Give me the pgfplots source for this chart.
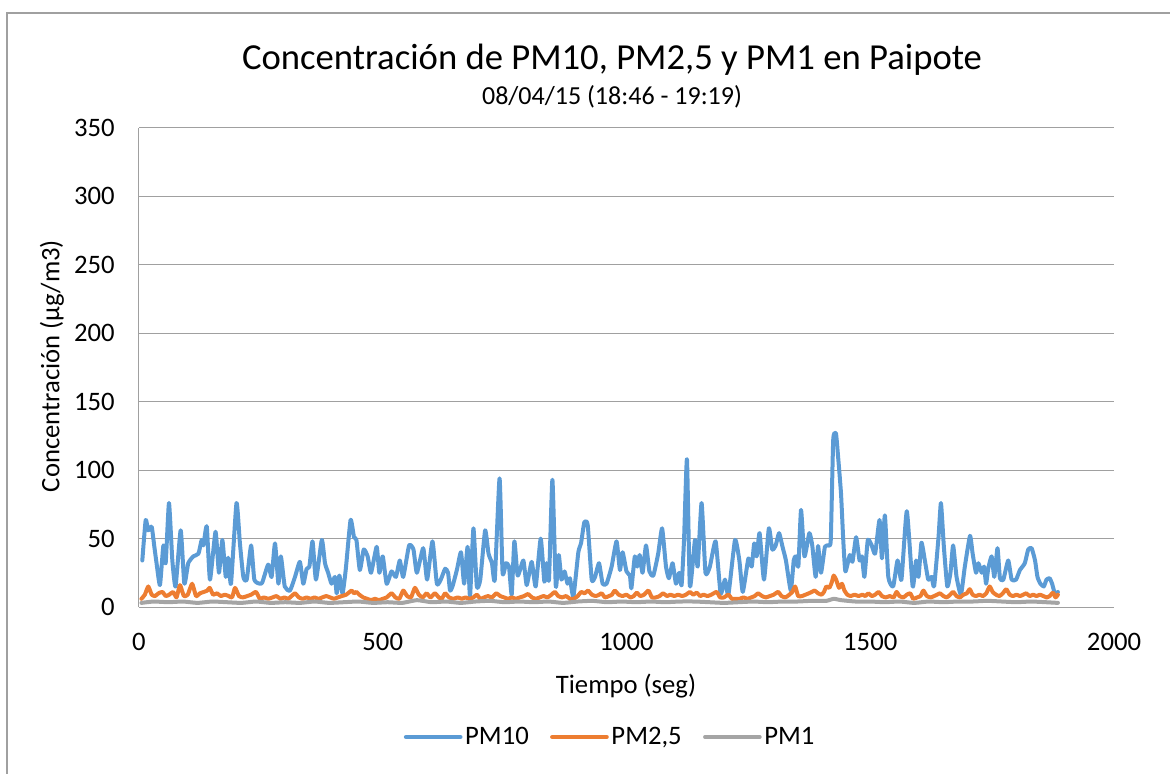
\documentclass[border=0pt]{standalone}
\usepackage{pgfplots}
\pgfplotsset{compat=1.18}
\usepackage{fontspec}
\setmainfont{Carlito}
\definecolor{pmblue}{RGB}{91,155,213}
\definecolor{pmorange}{RGB}{237,125,49}
\definecolor{pmgray}{RGB}{165,165,165}
\definecolor{gridc}{RGB}{160,160,160}
\begin{document}
\begin{tikzpicture}
\useasboundingbox (-104.25pt,-125.25pt) rectangle (773.25pt,455.25pt);
\draw[color=gridc, line width=1.2pt] (-99pt,-130pt) -- (-99pt,445.5pt) -- (780pt,445.5pt);
\begin{axis}[
  at={(0,0)}, anchor=south west,
  scale only axis,
  width=731.25pt, height=359.25pt,
  xmin=0, xmax=2000, ymin=0, ymax=350,
  xtick={0,500,1000,1500,2000},
  ytick={0,50,100,150,200,250,300,350},
  axis line style={draw=gridc, line width=0.75pt},
  axis x line*=bottom, axis y line*=left,
  major tick length=0pt,
  ymajorgrids, grid style={draw=gridc, line width=0.75pt},
  tick label style={font=\fontsize{20}{23}\selectfont, text=black},
  /pgf/number format/assume math mode=true,
  /pgf/number format/set thousands separator={},
  xticklabel style={anchor=base, yshift=-32.5pt, inner sep=0pt},
  yticklabel style={anchor=east, xshift=-18pt, inner sep=0pt},
  legend style={at={(0.4836,-0.2714)}, anchor=center, draw=none, fill=none,
    font=\fontsize{20}{23}\selectfont, legend columns=3,
    /tikz/every even column/.append style={column sep=14pt}},
  legend image code/.code={\draw[#1, line width=3pt] (0pt,0pt) -- (41pt,0pt);},
  every axis plot/.append style={line join=round, line cap=round, line width=3pt, smooth, tension=0.3},
  clip=false,
]
\addplot[color=pmblue, mark=none] coordinates {
(6.8,34) (13.7,63.6) (19,56) (26,58.7) (31.5,44) (36,32) (43,16) (50,45) (54.7,32) (61.5,76) (68.4,34) (75,15) (85.5,56) (93,17) (101,32) (111.5,37) (122,39) (128.5,49) (132,45) (139,59) (145.6,20) (157,55) (164,25) (171,49) (178,22) (183,36) (188.7,17) (200,76) (207,46.5) (214,22) (221,20) (230,45) (236.6,20) (248,17) (253,18) (265,31) (272,22) (279,46.5) (286,17) (291,37) (299,15) (309.7,12) (320,22) (330,33) (337,17) (344,28) (349.5,29.5) (356,48) (363,20) (375,49) (381.5,32) (388,25) (395,17) (402,22) (405.5,10) (411,23) (417.5,10) (424,27) (434,63.6) (441,51) (446,49) (453,27) (461,42) (469,37) (476,25) (487.5,44) (493,25) (500,37) (508,17) (518,26) (527,22) (535,34) (542,22) (554,45) (563,42) (570,25) (583,43) (591,20) (602,48) (611,17) (619,20) (628,28) (634,25) (638,12) (643,15) (652,27) (660.5,40) (667,17) (674,44) (679,7.5) (686,57.5) (693,15) (700,20) (710,56) (717,39) (724,32) (729.8,20) (739.6,94) (745.8,25) (752.6,32) (759,29.5) (764.5,9) (770,48) (776.8,23) (788.4,34) (795.3,16) (805.5,33) (813.7,15) (824,50) (831.5,18.5) (836,32) (841,20) (848,93) (855,15) (861,38) (866.6,20) (873,26) (879,17) (884,21) (891,7.5) (901.2,40) (906.7,46.5) (913.5,62) (920.4,60) (928.6,20) (935.5,22) (943.6,32) (951,17) (959,17) (969.5,29.5) (979.6,48) (986.5,27) (992,40) (1000,26) (1007,23) (1010,13.6) (1017,37) (1022,29.5) (1027,38) (1033,25) (1040,45) (1047,26) (1055,23) (1065,39) (1073,57.5) (1081,29.5) (1087,21) (1094.5,32) (1101.5,17) (1108,25) (1113,16) (1118,49) (1124,108) (1130,15) (1140.5,49) (1146,29.5) (1154,76) (1162,25) (1171,29.5) (1182.8,48) (1193,10) (1202,20) (1209,9) (1222.6,49) (1231.5,34) (1238.5,11) (1250,35.5) (1256.8,29.5) (1262,46.5) (1267,37) (1273,54) (1282,20) (1292,57.5) (1299,42) (1306,45) (1313,54) (1320,44) (1327,34) (1337,12) (1343,34) (1347,37) (1352.5,29.5) (1358,71) (1365,37) (1375,54) (1381,45) (1388,22) (1393,44.6) (1399,25) (1407,44) (1414,45) (1419,49) (1424,122) (1429.6,127) (1434,110) (1440,83) (1444.6,49) (1449,26) (1458,38) (1463.5,33) (1471,51) (1478,34) (1483,37) (1488,22) (1495,49) (1503,45) (1510,39) (1519,63.6) (1524,35.5) (1530,67) (1537,22) (1547,15) (1556,34) (1564,20) (1575,70) (1587,15) (1594,34) (1599,22) (1605,47) (1612,34) (1619,20) (1626,22) (1631,15) (1640,51) (1645,76) (1651,44) (1658,15) (1664.5,25) (1670,45) (1677,22) (1686,9) (1694,29.5) (1704.6,52) (1710,39) (1717,25) (1721.8,32) (1728.7,25) (1733.5,29.5) (1737.6,17) (1742,28) (1749,37) (1754.5,22) (1761,43) (1766,21) (1773,20) (1783,34) (1790,20) (1799,20) (1807,27) (1817,32) (1824,42) (1831,43) (1838,34) (1843,22) (1849,17) (1856,15) (1861.5,20) (1868,21) (1873,17) (1878.6,10) (1885,11)
};
\addlegendentry{PM10}
\addplot[color=pmorange, mark=none] coordinates {
(5,6) (12,9) (19,15) (26,9) (33,8) (40,10) (48,11) (55,8) (62,9) (70,11) (77,7) (84,16) (92,8) (100,9) (109,17) (117,8) (125,10) (133,11) (140,12) (145,14) (152,9) (160,10) (168,8) (176,9) (184,8) (191,7) (197,14) (205,8) (213,7) (222,8) (230,9) (240,11) (248,6) (256,7) (265,6) (274,7) (282,8) (290,6) (298,7) (306,6) (313,8) (320,10) (328,7) (336,6) (344,7) (352,6) (360,7) (368,6) (376,7) (384,8) (392,7) (400,6) (408,7) (416,8) (425,9) (436,12) (441,10) (446,11) (452,9) (460,7) (468,6) (476,5) (484,6) (492,5) (500,6) (508,7) (518,10) (526,7) (534,6) (542,12) (550,8) (558,7) (566,14) (574,9) (582,7) (590,10) (598,7) (607,10) (615,7) (621,6) (628,10) (636,7) (645,6) (654,7) (662,6) (670,7) (678,6) (686,7) (693,9) (700,6) (708,7) (716,8) (724,7) (733,10) (741,8) (749,7) (757,6) (765,7) (773,6) (781,7) (790,8) (798,9.5) (806,7) (814,6) (822,7) (830,8) (838,7) (846,9) (853,11) (860,8) (868,7) (876,8) (884,6) (892,6) (900,8) (907,11) (914,10) (921,12) (929,9) (937,8) (944,9) (949,10) (956,7) (964,8) (970,9) (976,12) (984,9) (992,8) (1000,9) (1008,7) (1015,8) (1021,10.5) (1028,8) (1036,9) (1045,12) (1052,7) (1060,7) (1068,8) (1075,10) (1083,8) (1090,9) (1098,8) (1106,9) (1114,8) (1122,9) (1130,11) (1137,9) (1144,10.5) (1151,8) (1158,9) (1166,8) (1174,9) (1185,11) (1192,7) (1200,7) (1209,9) (1216,6) (1224,6) (1232,6) (1240,7) (1248,6) (1256,7) (1263,8) (1270,10) (1278,8) (1286,7) (1294,8) (1302,9) (1311,11) (1318,8) (1326,7) (1334,9) (1340,11) (1346,15) (1352,8) (1360,8) (1367,9) (1374,10) (1380,11) (1386,12) (1393,10) (1400,9) (1405,11) (1410,15) (1416,14) (1421,18) (1425,23) (1430,20) (1436,14) (1442,17) (1447,12) (1453,9) (1460,8) (1468,9) (1476,8) (1484,9) (1490,8) (1496,10) (1503,8) (1510,9) (1517,11) (1524,8) (1532,7) (1540,8) (1548,7) (1554,11) (1560,8) (1568,7) (1575,9) (1582,10) (1588,6) (1596,7) (1603,8) (1609,12) (1616,8) (1624,7) (1631,8) (1637,9) (1643,10) (1650,8) (1657,7) (1664,9) (1670,11) (1677,8) (1684,7) (1691,9) (1698,10) (1704,13) (1710,9) (1717,8) (1724,9) (1731,8) (1738,10) (1745,15) (1751,11) (1758,9) (1765,8) (1772,10) (1779,13) (1786,9) (1793,8) (1800,9) (1807,8) (1814,9) (1820,10) (1827,8) (1834,9) (1841,8) (1848,9) (1855,8) (1862,7) (1868,8) (1875,10.5) (1880,7) (1885,9)
};
\addlegendentry{PM2,5}
\addplot[color=pmgray, mark=none] coordinates {
(5,3) (30,4) (60,3.5) (90,4) (120,3) (150,4) (180,3.5) (210,3) (240,4) (270,3) (300,3.5) (330,3) (360,4) (390,3) (420,3.5) (450,4) (480,3) (510,3.5) (540,3) (570,5) (600,3.5) (630,4) (660,3) (690,4) (720,4.5) (750,3.5) (780,4) (810,3.5) (840,4) (870,3) (900,4) (930,4.5) (960,3.5) (990,4) (1020,3.5) (1050,4) (1080,3.5) (1110,4) (1140,4) (1170,3.5) (1200,3) (1230,3.5) (1260,4) (1290,3.5) (1320,4) (1350,4) (1380,4.5) (1410,4.5) (1425,6) (1440,5) (1470,4) (1500,4) (1530,3.5) (1560,4) (1590,3) (1620,4) (1650,3.5) (1680,4) (1710,4) (1740,4.5) (1770,4) (1800,3.5) (1830,4) (1860,3.5) (1885,3)
};
\addlegendentry{PM1}
\end{axis}
\node[font=\fontsize{27.5}{33}\selectfont] at (354.75pt,410.25pt) {Concentración de PM10, PM2,5 y PM1 en Paipote};
\node[font=\fontsize{19.5}{23}\selectfont] at (354.75pt,382.5pt) {08/04/15 (18:46 - 19:19)};
\node[font=\fontsize{20}{23}\selectfont] at (365.25pt,-59.25pt) {Tiempo (seg)};
\node[font=\fontsize{20}{23}\selectfont, rotate=90] at (-65.25pt,180.75pt) {Concentración (µg/m3)};
\end{tikzpicture}
\end{document}
